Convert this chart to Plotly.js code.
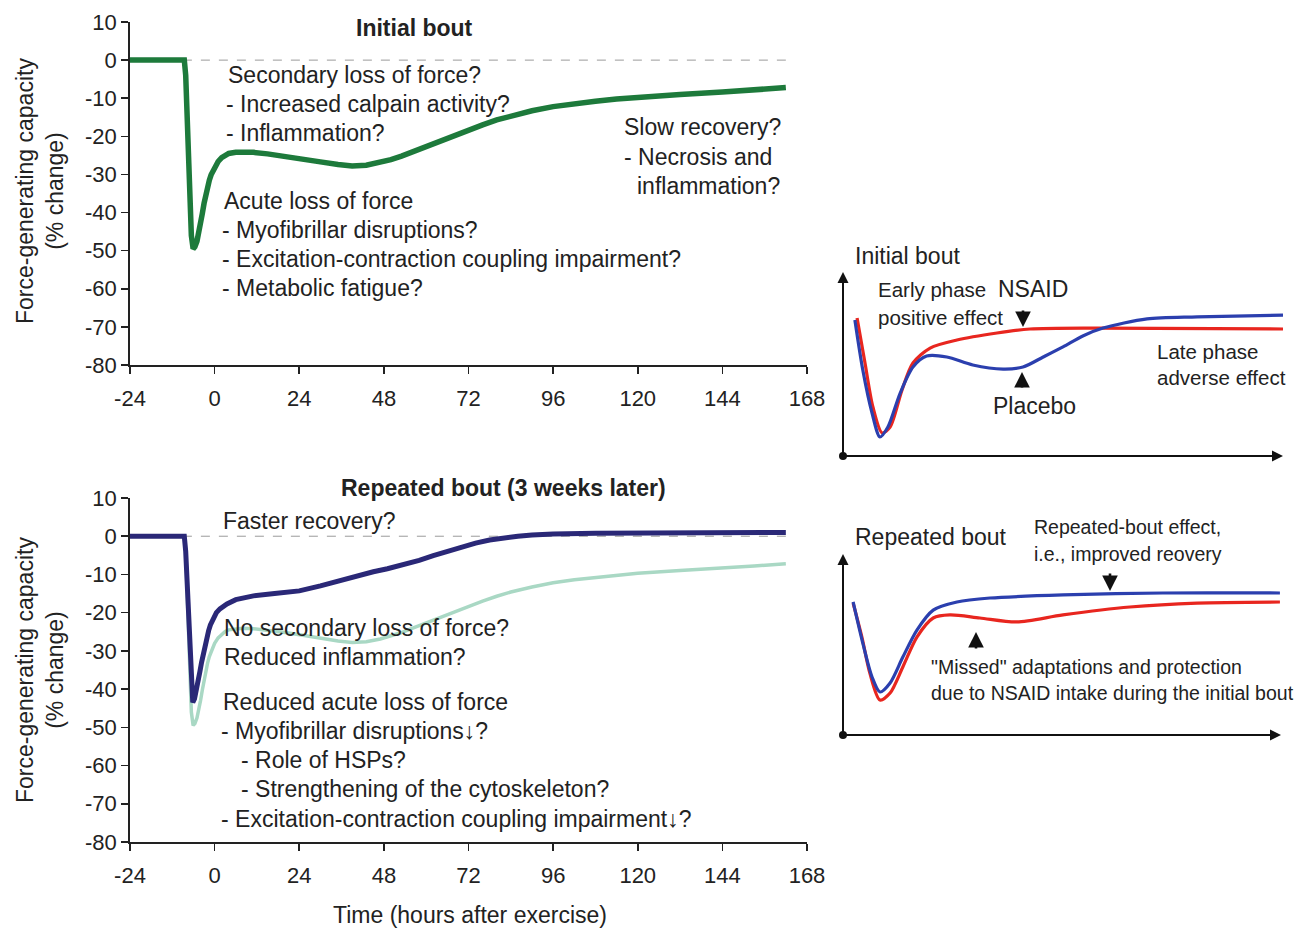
<!DOCTYPE html>
<html>
<head>
<meta charset="utf-8">
<script src="https://cdn.plot.ly/plotly-3.0.1.min.js"></script>
<style>html,body{margin:0;padding:0;background:#fff;}#chart{width:1305px;height:929px;}</style>
</head>
<body>
<div id="chart"></div>
<script>
// ---- Data: main panels (hours after exercise, % change in force) ----
const xTickVals = [-24, 0, 24, 48, 72, 96, 120, 144, 168];
const yTickVals = [-80, -70, -60, -50, -40, -30, -20, -10, 0, 10];

const initialHours = [-24, -8.6, -8.2, -7.8, -7.4, -7, -6.6, -6.1, -5.6, -5, -4.5, -4, -3.5, -3, -2.5, -2, -1.5, -1, -0.5, 0, 1, 2, 3, 4, 6, 8, 11, 15, 20, 25, 30, 35, 39, 43, 47, 50, 53, 56, 59, 62, 65, 68, 72, 76, 80, 84, 90, 96, 102, 108, 114, 120, 132, 144, 153, 162];
const initialForce = [0, 0, -4, -15, -28, -39, -46, -49.5, -49, -47.5, -45.5, -43, -40.3, -37.6, -35.2, -33.2, -31.5, -30.1, -29, -28, -26.6, -25.6, -24.9, -24.5, -24.2, -24.1, -24.2, -24.6, -25.2, -25.9, -26.7, -27.4, -27.8, -27.6, -26.9, -26.1, -25.2, -24.1, -23, -22, -21, -19.9, -18.4, -17, -15.7, -14.6, -13.3, -12.2, -11.4, -10.8, -10.2, -9.7, -9, -8.4, -7.8, -7.2];

const repeatedHours = [-24, -8.6, -8.2, -7.8, -7.4, -7, -6.6, -6.2, -5.7, -5.2, -4.7, -4.2, -3.7, -3.2, -2.7, -2.2, -1.7, -1.2, -0.7, -0.2, 0.5, 1.5, 2.5, 3.5, 6, 11, 17, 24, 30, 35, 40, 45, 49, 53, 58, 62, 66, 70, 74, 78, 82, 86, 90, 96, 108, 120, 144, 162];
const repeatedForce = [0, 0, -4, -13, -24, -33, -40, -43.5, -42.5, -40.5, -38, -35.5, -33, -30.5, -28.3, -26.4, -24.7, -23.2, -22, -21, -20, -19, -18.3, -17.7, -16.6, -15.6, -15, -14.3, -13, -11.7, -10.4, -9.3, -8.5, -7.6, -6.3, -5.1, -3.9, -2.8, -1.8, -1, -0.4, 0, 0.3, 0.6, 0.8, 0.9, 1, 1];

// ---- Data: schematic panels (arbitrary units 0-100) ----
const initPlaceboX = [2.7, 4.5, 6.6, 8.4, 10.2, 13, 15.9, 19, 23.6, 29.5, 36.4, 40.9, 45.5, 50, 54.5, 59.1, 69.1, 80.5, 100];
const initPlaceboY = [74.3, 47, 23.5, 10.4, 15.8, 34.4, 48.6, 54.6, 54.1, 49.7, 47.5, 48.6, 54.1, 59.6, 65.6, 69.9, 74.9, 76, 77];
const initNsaidX = [3.2, 5, 6.8, 8.9, 10.7, 13.4, 15.9, 19.8, 25.9, 35, 42.5, 57.7, 100];
const initNsaidY = [75.4, 50.8, 26.8, 12.6, 15.8, 36, 50.8, 59, 63.4, 67.2, 69.4, 69.9, 69.4];

const repPlaceboX = [2.3, 4.5, 6.6, 8.4, 10.7, 13.6, 16.8, 20.5, 25.9, 33.4, 50, 72.7, 99.3];
const repPlaceboY = [73.9, 51, 32.2, 23.9, 28.9, 43.3, 58.3, 69.4, 73.9, 76.1, 77.8, 78.9, 78.9];
const repNsaidX = [2.3, 4.3, 6.1, 8.4, 10.7, 13.6, 16.8, 20.5, 24.3, 31.1, 39.5, 50, 65.2, 80.5, 99.3];
const repNsaidY = [73.3, 54.4, 34.4, 19.4, 23.3, 37.8, 54.4, 65, 66.7, 65, 62.8, 66.7, 71.1, 73.3, 73.9];

// ---- Layout helpers ----
const W = 1305, H = 929;
const px = x => x / W;
const py = y => 1 - y / H;
const FONT = 'Liberation Sans, Arial, sans-serif';
const INK = '#222';

const mainAxisX = (anchor, dom) => ({
  domain: dom, range: [-24, 168], anchor: anchor,
  tickmode: 'array', tickvals: xTickVals, ticktext: xTickVals.map(String),
  ticks: 'outside', ticklen: 7, tickwidth: 1.6, tickcolor: INK, ticklabelstandoff: 6,
  showline: true, linewidth: 1.8, linecolor: INK, showgrid: false, zeroline: false,
  tickfont: {family: FONT, size: 22, color: INK}, fixedrange: true
});
const mainAxisY = (anchor, dom) => ({
  domain: dom, range: [-80, 10], anchor: anchor,
  tickmode: 'array', tickvals: yTickVals, ticktext: yTickVals.map(String),
  ticks: 'outside', ticklen: 7, tickwidth: 1.6, tickcolor: INK,
  showline: true, linewidth: 1.8, linecolor: INK, showgrid: false, zeroline: false,
  tickfont: {family: FONT, size: 22, color: INK}, fixedrange: true
});
const hiddenAxis = (anchor, dom) => ({
  domain: dom, range: [0, 100], anchor: anchor, visible: false, fixedrange: true
});

const mainX = [px(130), px(807)];
const schemX = [px(843), px(1283)];

const data = [
  {x: initialHours, y: initialForce, xaxis: 'x', yaxis: 'y', mode: 'lines',
   line: {color: '#1d7a3b', width: 5.5, shape: 'linear'}},
  {x: initialHours, y: initialForce, xaxis: 'x2', yaxis: 'y2', mode: 'lines',
   line: {color: '#a9d8c4', width: 3.5, shape: 'linear'}},
  {x: repeatedHours, y: repeatedForce, xaxis: 'x2', yaxis: 'y2', mode: 'lines',
   line: {color: '#2a2877', width: 5, shape: 'linear'}},
  {x: initNsaidX, y: initNsaidY, xaxis: 'x3', yaxis: 'y3', mode: 'lines',
   line: {color: '#e8261f', width: 3.2, shape: 'spline', smoothing: 0.8}},
  {x: initPlaceboX, y: initPlaceboY, xaxis: 'x3', yaxis: 'y3', mode: 'lines',
   line: {color: '#2b3fae', width: 3.2, shape: 'spline', smoothing: 0.8}},
  {x: repNsaidX, y: repNsaidY, xaxis: 'x4', yaxis: 'y4', mode: 'lines',
   line: {color: '#e8261f', width: 3.2, shape: 'spline', smoothing: 0.8}},
  {x: repPlaceboX, y: repPlaceboY, xaxis: 'x4', yaxis: 'y4', mode: 'lines',
   line: {color: '#2b3fae', width: 3.2, shape: 'spline', smoothing: 0.8}}
];

function txt(x, y, text, size, extra) {
  return Object.assign({
    xref: 'paper', yref: 'paper', x: px(x), y: py(y), text: text,
    xanchor: 'left', yanchor: 'middle', showarrow: false,
    font: {family: FONT, size: size, color: INK}
  }, extra || {});
}
function arrow(hx, hy, tx, ty, w, s) {
  return {
    xref: 'paper', yref: 'paper', x: px(hx), y: py(hy), ax: tx - hx, ay: ty - hy,
    text: '', showarrow: true, arrowhead: 2, arrowsize: s || 1.2, arrowwidth: w || 2.6,
    arrowcolor: '#111'
  };
}

const M = 23;     // main-panel annotation size
const S1 = 20.5;  // schematic top small labels
const S2 = 19.5;  // schematic bottom small labels

const annotations = [
  // main panel titles
  txt(414, 28, '<b>Initial bout</b>', 23, {xanchor: 'center'}),
  txt(503, 488, '<b>Repeated bout (3 weeks later)</b>', 23, {xanchor: 'center'}),
  // y axis titles
  txt(40, 191, 'Force-generating capacity<br>(% change)', 23, {xanchor: 'center', textangle: -90}),
  txt(40, 670, 'Force-generating capacity<br>(% change)', 23, {xanchor: 'center', textangle: -90}),
  // x axis title
  txt(470, 915, 'Time (hours after exercise)', 23, {xanchor: 'center'}),
  // top panel text
  txt(226, 75, 'Secondary loss of force?', M),
  txt(224, 104, '- Increased calpain activity?', M),
  txt(224, 133, '- Inflammation?', M),
  txt(222, 201, 'Acute loss of force', M),
  txt(220, 230, '- Myofibrillar disruptions?', M),
  txt(220, 259, '- Excitation-contraction coupling impairment?', M),
  txt(220, 288, '- Metabolic fatigue?', M),
  txt(622, 127, 'Slow recovery?', M),
  txt(622, 157, '- Necrosis and', M),
  txt(635, 186, 'inflammation?', M),
  // bottom panel text
  txt(221, 521, 'Faster recovery?', M),
  txt(222, 628, 'No secondary loss of force?', M),
  txt(222, 657, 'Reduced inflammation?', M),
  txt(221, 702, 'Reduced acute loss of force', M),
  txt(219, 731, '- Myofibrillar disruptions\u2193?', M),
  txt(239, 760, '- Role of HSPs?', M),
  txt(239, 789, '- Strengthening of the cytoskeleton?', M),
  txt(219, 819, '- Excitation-contraction coupling impairment\u2193?', M),
  // schematic top-right
  txt(853, 256, 'Initial bout', 23),
  txt(876, 290, 'Early phase', S1),
  txt(876, 317, 'positive effect', S1),
  txt(996, 289, 'NSAID', 23),
  txt(991, 406, 'Placebo', 23),
  txt(1155, 351, 'Late phase', S1),
  txt(1155, 377, 'adverse effect', S1),
  arrow(1023, 327, 1023, 309),
  arrow(1022, 372, 1022, 389),
  // schematic bottom-right
  txt(853, 537, 'Repeated bout', 23),
  txt(1032, 527, 'Repeated-bout effect,', S2),
  txt(1032, 554, 'i.e., improved reovery', S2),
  txt(929, 667, '"Missed" adaptations and protection', S2),
  txt(929, 693, 'due to NSAID intake during the initial bout', S2),
  arrow(1110, 591, 1110, 572),
  arrow(976, 632, 976, 650),
  // schematic axes
  arrow(843, 272, 843, 456, 2, 1.1),
  arrow(1283, 456, 843, 456, 2, 1.1),
  arrow(843, 554, 843, 735, 2, 1.1),
  arrow(1281, 735, 843, 735, 2, 1.1)
];

const shapes = [
  {type: 'line', xref: 'x', yref: 'y', x0: -9, x1: 162, y0: 0, y1: 0, layer: 'below',
   line: {color: '#9a9a9a', width: 1, dash: 'dash'}},
  {type: 'line', xref: 'x2', yref: 'y2', x0: -9, x1: 162, y0: 0, y1: 0, layer: 'below',
   line: {color: '#9a9a9a', width: 1, dash: 'dash'}},
  {type: 'circle', xref: 'paper', yref: 'paper', x0: px(839), x1: px(847), y0: py(460), y1: py(452),
   fillcolor: '#111', line: {color: '#111', width: 0}},
  {type: 'circle', xref: 'paper', yref: 'paper', x0: px(839), x1: px(847), y0: py(739), y1: py(731),
   fillcolor: '#111', line: {color: '#111', width: 0}}
];

const layout = {
  width: W, height: H, margin: {l: 0, r: 0, t: 0, b: 0},
  paper_bgcolor: '#fff', plot_bgcolor: 'rgba(0,0,0,0)',
  showlegend: false, hovermode: false,
  font: {family: FONT, color: INK},
  xaxis: mainAxisX('y', mainX),
  yaxis: mainAxisY('x', [py(365), py(22)]),
  xaxis2: mainAxisX('y2', mainX),
  yaxis2: mainAxisY('x2', [py(842), py(498)]),
  xaxis3: hiddenAxis('y3', schemX),
  yaxis3: hiddenAxis('x3', [py(456), py(273)]),
  xaxis4: hiddenAxis('y4', schemX),
  yaxis4: hiddenAxis('x4', [py(735), py(555)]),
  annotations: annotations,
  shapes: shapes
};

Plotly.newPlot('chart', data, layout, {staticPlot: true, displayModeBar: false});
</script>
</body>
</html>
